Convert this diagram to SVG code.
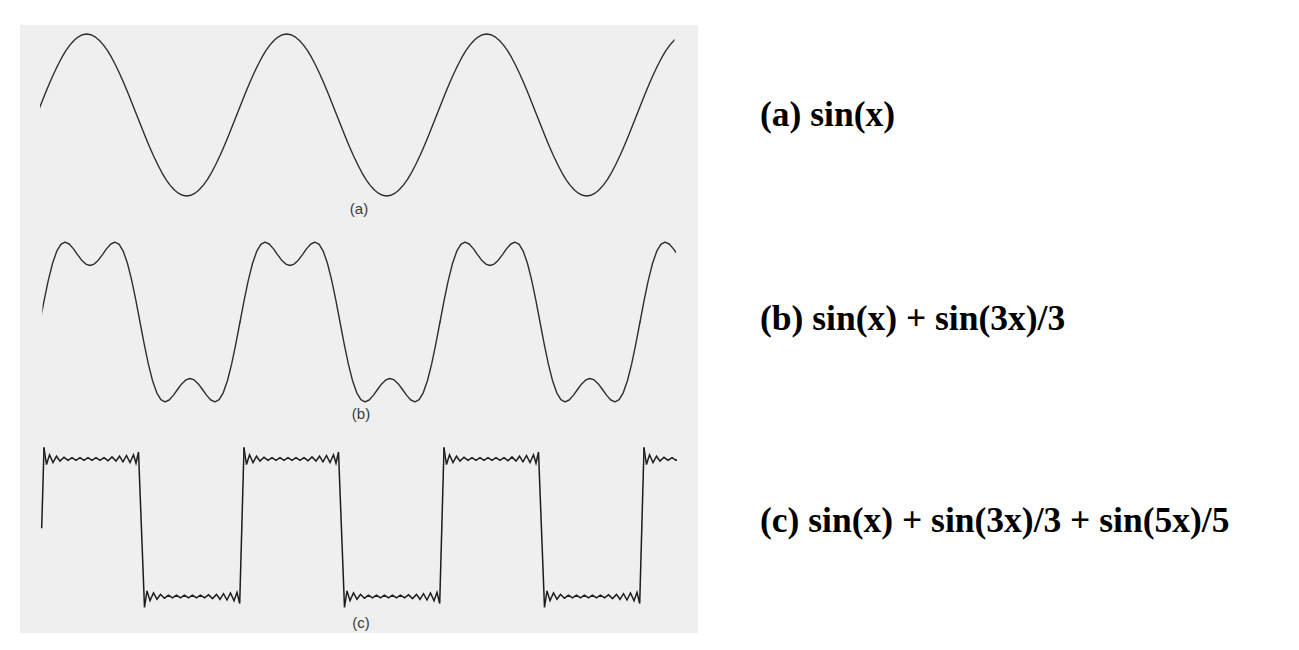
<svg xmlns="http://www.w3.org/2000/svg" width="1299" height="650" viewBox="0 0 1299 650">
<style>
.wave{fill:none;stroke:#2e2e2e;stroke-width:1.4;stroke-linejoin:round;stroke-linecap:round}
.sq{fill:none;stroke:#1c1c1c;stroke-width:1.5;stroke-linejoin:miter;stroke-miterlimit:4;stroke-linecap:round}
.small{font-family:"Liberation Sans",Arial,sans-serif;font-size:15px;fill:#3a3a3a;text-anchor:middle}
.eq{font-family:"Liberation Serif","Times New Roman",serif;font-size:35.5px;font-weight:bold;fill:#000}
</style>
<defs>
<path id="pa" d="M0,115 L4.17,104.4 L8.33,94 L12.5,84 L16.67,74.5 L20.83,65.7 L25,57.7 L29.17,50.7 L33.33,44.9 L37.5,40.2 L41.67,36.8 L45.83,34.7 L50,34 L54.17,34.7 L58.33,36.8 L62.5,40.2 L66.67,44.9 L70.83,50.7 L75,57.7 L79.17,65.7 L83.33,74.5 L87.5,84 L91.67,94 L95.83,104.4 L100,115 L104.17,125.6 L108.33,136 L112.5,146 L116.67,155.5 L120.83,164.3 L125,172.3 L129.17,179.3 L133.33,185.1 L137.5,189.8 L141.67,193.2 L145.83,195.3 L150,196 L154.17,195.3 L158.33,193.2 L162.5,189.8 L166.67,185.1 L170.83,179.3 L175,172.3 L179.17,164.3 L183.33,155.5 L187.5,146 L191.67,136 L195.83,125.6 L200,115"/>
<path id="pb" d="M0,322 L4.17,300.1 L8.33,280.1 L12.5,263.5 L16.67,251.4 L20.83,244.4 L25,242.1 L29.17,244 L33.33,248.6 L37.5,254.6 L41.67,260.2 L45.83,264.1 L50,265.5 L54.17,264.1 L58.33,260.2 L62.5,254.6 L66.67,248.6 L70.83,244 L75,242.1 L79.17,244.4 L83.33,251.4 L87.5,263.5 L91.67,280.1 L95.83,300.1 L100,322 L104.17,343.9 L108.33,363.9 L112.5,380.5 L116.67,392.6 L120.83,399.6 L125,401.9 L129.17,400 L133.33,395.4 L137.5,389.5 L141.67,383.9 L145.83,379.9 L150,378.5 L154.17,379.9 L158.33,383.9 L162.5,389.5 L166.67,395.4 L170.83,400 L175,401.9 L179.17,399.6 L183.33,392.6 L187.5,380.5 L191.67,363.9 L195.83,343.9 L200,322"/>
<path id="pc" d="M4.3,448 L6.8,464.6 L9.8,454.8 L13.3,462.5 L16.8,456.2 L20.3,461.1 L24.3,457.3 L28.3,460.4 L32.3,457.6 L36.3,460.4 L40.3,457.6 L44.3,460.4 L48.3,457.6 L52.3,460.4 L56.3,457.6 L60.3,460.4 L64.3,457.6 L68.3,460.7 L72.3,456.9 L76.3,461.1 L79.8,456.2 L83.3,461.8 L86.8,455.5 L90.3,462.5 L93.8,454.8 L96.3,463.2 L98.8,452 L104.8,607.5 L107.3,590.9 L110.3,600.7 L113.8,593 L117.3,599.3 L120.8,594.4 L124.8,598.2 L128.8,595.1 L132.8,597.9 L136.8,595.1 L140.8,597.9 L144.8,595.1 L148.8,597.9 L152.8,595.1 L156.8,597.9 L160.8,595.1 L164.8,597.9 L168.8,594.8 L172.8,598.6 L176.8,594.4 L180.3,599.3 L183.8,593.7 L187.3,600 L190.8,593 L194.3,600.7 L197.3,592.3 L200,603.5 L204.3,448"/>
<clipPath id="ca"><rect x="40" y="0" width="634.5" height="650"/></clipPath>
<clipPath id="cb"><rect x="42.4" y="0" width="633.6" height="650"/></clipPath>
<clipPath id="cc"><rect x="0" y="0" width="677" height="650"/></clipPath>
</defs>
<rect id="page" x="20" y="25" width="678" height="608" fill="#efefef"/>
<g id="wave-a" class="wave" clip-path="url(#ca)">
<use href="#pa" x="36.7"/>
<use href="#pa" x="236.7"/>
<use href="#pa" x="436.7"/>
<use href="#pa" x="636.7"/>
</g>
<g id="wave-b" class="wave" clip-path="url(#cb)">
<use href="#pb" x="40"/>
<use href="#pb" x="240"/>
<use href="#pb" x="440"/>
<use href="#pb" x="640"/>
</g>
<g id="wave-c" class="sq" clip-path="url(#cc)">
<path d="M41.7,527.7 L44,448"/>
<use href="#pc" x="39.7"/>
<use href="#pc" x="239.7"/>
<use href="#pc" x="439.7"/>
<use href="#pc" x="639.7"/>
</g>
<g id="captions">
<text class="small" x="359" y="214">(a)</text>
<text class="small" x="361" y="419">(b)</text>
<text class="small" x="361" y="628">(c)</text>
</g>
<g id="equations">
<text class="eq" x="760" y="126">(a) sin(x)</text>
<text class="eq" x="760" y="330">(b) sin(x) + sin(3x)/3</text>
<text class="eq" x="760" y="532">(c) sin(x) + sin(3x)/3 + sin(5x)/5</text>
</g>
</svg>
